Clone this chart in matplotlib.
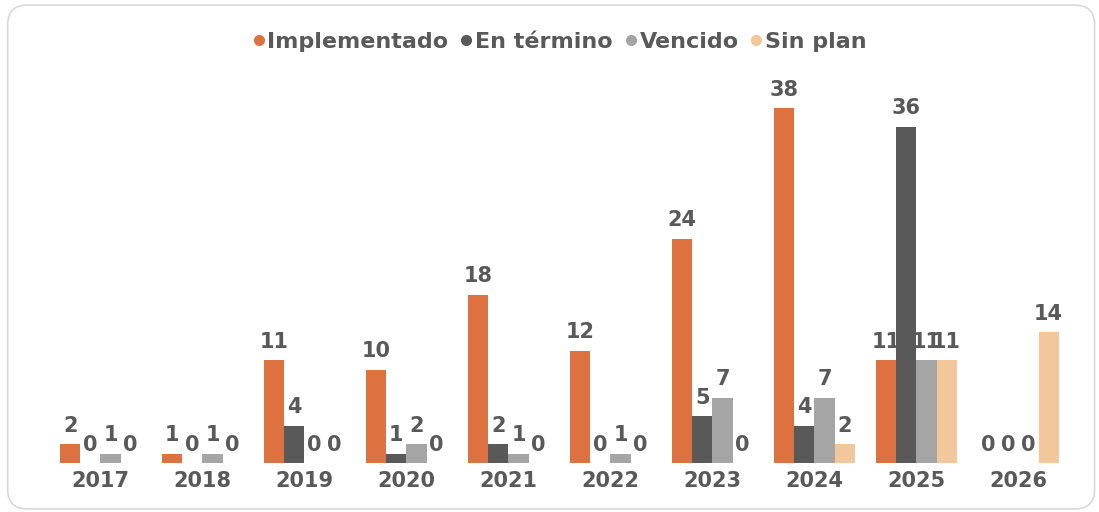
import numpy as np
import matplotlib.pyplot as plt
from matplotlib.patches import FancyBboxPatch

years = ['2017', '2018', '2019', '2020', '2021', '2022', '2023', '2024', '2025', '2026']
implementado = [2, 1, 11, 10, 18, 12, 24, 38, 11, 0]
en_termino = [0, 0, 4, 1, 2, 0, 5, 4, 36, 0]
vencido = [1, 1, 0, 2, 1, 1, 7, 7, 11, 0]
sin_plan = [0, 0, 0, 0, 0, 0, 0, 2, 11, 14]

series = ['Implementado', 'En término', 'Vencido', 'Sin plan']
colores = ['#DD7140', '#595959', '#A5A5A5', '#F2C79C']
txt = '#595959'

plt.rcParams['font.family'] = 'DejaVu Sans'
plt.rcParams['font.weight'] = 'bold'

fig = plt.figure(figsize=(10.99, 5.12), dpi=100)
borde = FancyBboxPatch((0.007, 0.006), 0.989, 0.984,
                       boxstyle='round,pad=0,rounding_size=0.018',
                       transform=fig.transFigure, fc='white',
                       ec='#D9D9D9', lw=1.2, mutation_aspect=2.1, zorder=-5)
fig.patches.append(borde)
ax = fig.add_axes([0.045, 0.0957, 0.928, 0.730])
ax.set_facecolor('none')

x = np.arange(len(years))
w = 0.198
datos = [implementado, en_termino, vencido, sin_plan]
for i, (vals, c, nom) in enumerate(zip(datos, colores, series)):
    pos = x + (i - 1.5) * w
    ax.bar(pos, vals, w, color=c, label=nom, zorder=2)
    for p, v in zip(pos, vals):
        ax.text(p, v + 0.9, str(v), ha='center', va='bottom', fontsize=15,
                fontweight='bold', color=txt, zorder=1)

ax.set_xlim(-0.5, len(years) - 0.5)
ax.set_ylim(0, 40)
ax.set_xticks(x)
ax.set_xticklabels(years, fontsize=15, fontweight='bold', color=txt)
ax.tick_params(axis='x', length=0, pad=6)
ax.set_yticks([])
for s in ax.spines.values():
    s.set_visible(False)

handles = [plt.Line2D([], [], marker='o', ls='', color=c, markersize=7) for c in colores]
leg = fig.legend(handles, series, loc='center', bbox_to_anchor=(0.507, 0.918), ncol=4,
                 frameon=False, fontsize=16, handletextpad=-0.1, columnspacing=0.3,
                 handlelength=1.0)
for t in leg.get_texts():
    t.set_color(txt)
    t.set_fontweight('bold')

fig.savefig('out.png', dpi=100)
